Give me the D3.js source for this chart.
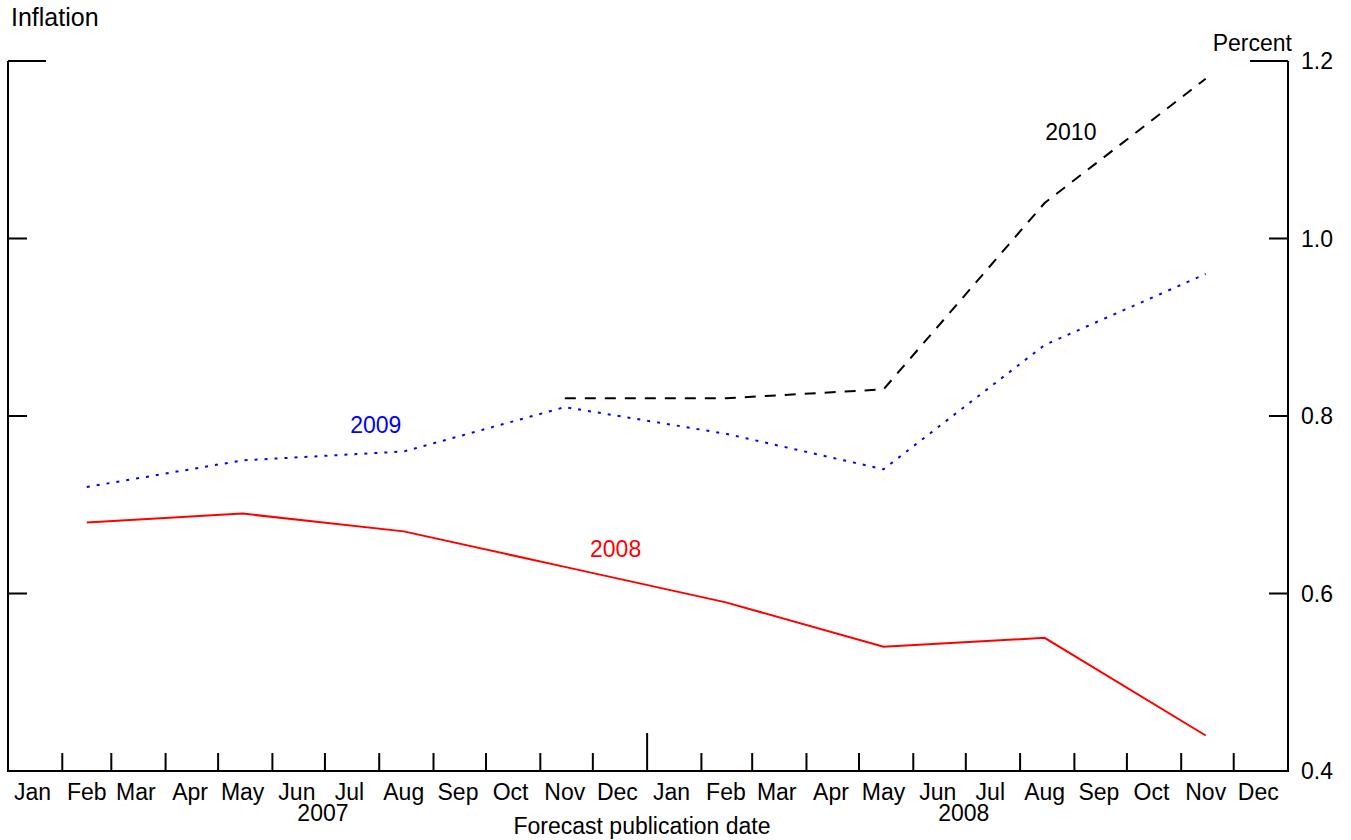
<!DOCTYPE html>
<html>
<head>
<meta charset="utf-8">
<script src="https://cdn.jsdelivr.net/npm/d3@7"></script>
<style>
  body { margin: 0; background: #fff; }
  text { font-family: "Liberation Sans", Arial, sans-serif; }
</style>
</head>
<body>
<div id="chart"></div>
<script>
// forecast publication dates (mid-month)
const dates2008 = ["2007-02-15", "2007-05-15", "2007-08-15", "2007-11-15", "2008-02-15", "2008-05-15", "2008-08-15", "2008-11-15"];
const values2008 = [0.68, 0.69, 0.67, 0.63, 0.59, 0.54, 0.55, 0.44];
const dates2009 = dates2008;
const values2009 = [0.72, 0.75, 0.76, 0.81, 0.78, 0.74, 0.88, 0.96];
const dates2010 = ["2007-11-15", "2008-02-15", "2008-05-15", "2008-08-15", "2008-11-15"];
const values2010 = [0.82, 0.82, 0.83, 1.04, 1.18];
const yTicks = [0.4, 0.6, 0.8, 1.0, 1.2];
const monthNames = ["Jan", "Feb", "Mar", "Apr", "May", "Jun", "Jul", "Aug", "Sep", "Oct", "Nov", "Dec"];
const years = [2007, 2008];

const width = 1351, height = 840;
const x0 = 8, x1 = 1288, y0 = 61, y1 = 771;
const fs = 23;
const parse = d3.utcParse("%Y-%m-%d");

const svg = d3.select("#chart").append("svg")
    .attr("width", width)
    .attr("height", height);

const x = d3.scaleUtc()
    .domain([Date.UTC(2007, 0, 1), Date.UTC(2009, 0, 1)])
    .range([x0, x1]);
const y = d3.scaleLinear().domain([0.4, 1.2]).range([y1, y0]);

// frame: left, right, bottom
const axes = svg.append("g").attr("stroke", "#000").attr("stroke-width", 2).attr("fill", "none");
axes.append("path").attr("d", `M${x0},${y0}V${y1}H${x1}V${y0}`);
// top ticks (longer)
axes.append("line").attr("x1", x0).attr("x2", x0 + 38).attr("y1", y0).attr("y2", y0);
axes.append("line").attr("x1", x1 - 38).attr("x2", x1).attr("y1", y0).attr("y2", y0);
// inner y ticks
yTicks.filter(t => t > 0.4 && t < 1.2).forEach(t => {
  axes.append("line").attr("x1", x0).attr("x2", x0 + 19).attr("y1", y(t)).attr("y2", y(t));
  axes.append("line").attr("x1", x1 - 19).attr("x2", x1).attr("y1", y(t)).attr("y2", y(t));
});

// month ticks
const months = x.ticks(d3.utcMonth.every(1));
months.forEach(m => {
  if (+m === +x.domain()[0] || +m === +x.domain()[1]) return;
  const len = m.getUTCMonth() === 0 ? 38 : 18;
  axes.append("line").attr("x1", x(m)).attr("x2", x(m)).attr("y1", y1).attr("y2", y1 - len);
});

// month labels
svg.append("g").selectAll("text")
  .data(months.filter(m => m < x.domain()[1]))
  .join("text")
  .attr("x", d => x(d3.utcDay.offset(d, 14.5)))
  .attr("y", 800)
  .attr("text-anchor", "middle")
  .attr("font-size", fs)
  .text(d => monthNames[d.getUTCMonth()]);

// year labels
svg.append("g").selectAll("text")
  .data(years)
  .join("text")
  .attr("x", d => x(Date.UTC(d, 6, 1)) - 2)
  .attr("y", 821)
  .attr("text-anchor", "middle")
  .attr("font-size", fs)
  .text(d => d);

svg.append("text")
  .attr("x", (x0 + x1) / 2 - 6)
  .attr("y", 834)
  .attr("text-anchor", "middle")
  .attr("font-size", fs)
  .text("Forecast publication date");

// right tick labels
svg.append("g").selectAll("text")
  .data(yTicks)
  .join("text")
  .attr("x", x1 + 13)
  .attr("y", d => y(d) + 8)
  .attr("font-size", fs)
  .text(d => d.toFixed(1));

svg.append("text").attr("x", 1292).attr("y", 51).attr("text-anchor", "end")
  .attr("font-size", fs).text("Percent");
svg.append("text").attr("x", 11).attr("y", 26)
  .attr("font-size", 25).text("Inflation");

// series
const line = d3.line().x(d => x(d[0])).y(d => y(d[1]));
const series = [
  { dates: dates2008, values: values2008, color: "#ff0000", dash: null, label: "2008", lx: "2007-12-14", ly: 0.641 },
  { dates: dates2009, values: values2009, color: "#0000ff", dash: "3,7", label: "2009", lx: "2007-07-30", ly: 0.781 },
  { dates: dates2010, values: values2010, color: "#000000", dash: "11,9", label: "2010", lx: "2008-08-30", ly: 1.111 }
];
series.forEach(s => {
  const pts = s.dates.map((d, i) => [parse(d), s.values[i]]);
  svg.append("path")
    .attr("d", line(pts))
    .attr("fill", "none")
    .attr("stroke", s.color)
    .attr("stroke-width", 2)
    .attr("stroke-dasharray", s.dash);
  svg.append("text")
    .attr("x", x(parse(s.lx)))
    .attr("y", y(s.ly))
    .attr("text-anchor", "middle")
    .attr("font-size", fs)
    .attr("fill", s.color)
    .text(s.label);
});
</script>
</body>
</html>
